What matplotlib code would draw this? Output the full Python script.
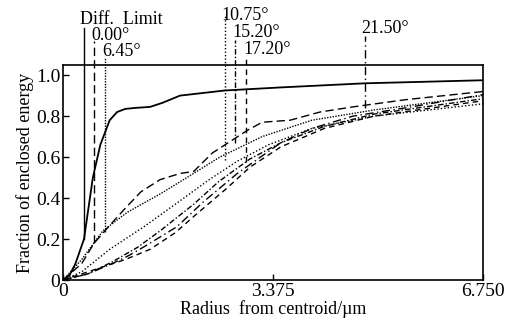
import matplotlib
matplotlib.use("Agg")
from matplotlib import pyplot as plt

plt.rcParams['font.family'] = ['Liberation Serif', 'DejaVu Serif']

# encircled energy curves
r_diff = [0, 0.1, 0.2, 0.3375, 0.48, 0.6, 0.75, 0.87, 1.0, 1.16, 1.4, 1.6, 1.88, 2.6, 3.5, 4.85, 6.75]
e_diff = [0, 0.02, 0.08, 0.2, 0.5, 0.66, 0.78, 0.82, 0.835, 0.84, 0.845, 0.865, 0.9, 0.925, 0.94, 0.96, 0.975]

r_000 = [0, 0.3, 0.5, 0.79, 1.0, 1.25, 1.56, 1.88, 2.1, 2.4, 2.96, 3.2, 3.65, 4.13, 4.66, 5.5, 6.75]
e_000 = [0, 0.08, 0.18, 0.28, 0.35, 0.43, 0.49, 0.52, 0.53, 0.62, 0.73, 0.77, 0.78, 0.82, 0.845, 0.88, 0.92]

r_645 = [0, 0.3, 0.64, 1.03, 1.56, 1.99, 2.52, 3.2, 4.0, 5.0, 6.75]
e_645 = [0, 0.1, 0.24, 0.33, 0.42, 0.5, 0.6, 0.7, 0.78, 0.83, 0.9]

r_1075 = [0, 0.3, 0.75, 1.3, 1.85, 2.35, 2.8, 3.3, 4.0, 5.0, 6.75]
e_1075 = [0, 0.04, 0.15, 0.26, 0.38, 0.49, 0.58, 0.66, 0.74, 0.8, 0.86]

r_1520 = [0, 0.4, 0.8, 1.2, 1.56, 2.1, 2.5, 3.0, 3.5, 4.2, 5.0, 6.75]
e_1520 = [0, 0.03, 0.09, 0.16, 0.24, 0.37, 0.48, 0.59, 0.67, 0.75, 0.81, 0.885]

r_1720 = [0, 0.5, 1.0, 1.4, 1.8, 2.1, 2.64, 3.0, 3.5, 4.2, 5.0, 6.75]
e_1720 = [0, 0.05, 0.1, 0.15, 0.23, 0.31, 0.45, 0.55, 0.65, 0.74, 0.8, 0.875]

r_2150 = [0, 0.4, 0.79, 1.06, 1.29, 1.83, 2.25, 2.8, 3.5, 4.0, 4.66, 5.5, 6.75]
e_2150 = [0, 0.03, 0.08, 0.12, 0.16, 0.26, 0.38, 0.52, 0.67, 0.74, 0.8, 0.84, 0.905]

# marker lines: label, radius, bottom, top of line, text baseline
labels = ['Diff.  Limit', '0.00°', '6.45°', '10.75°', '15.20°', '17.20°', '21.50°']
mark_r = [0.3375, 0.50, 0.675, 2.6, 2.76, 2.94, 4.85]
mark_lo = [0.2, 0.18, 0.235, 0.585, 0.67, 0.575, 0.84]
mark_hi = [1.232, 1.166, 1.088, 1.30, 1.17, 1.098, 1.19]
text_y = [1.25, 1.171, 1.093, 1.268, 1.185, 1.102, 1.205]

curves = [(r_diff, e_diff), (r_000, e_000), (r_645, e_645), (r_1075, e_1075),
          (r_1520, e_1520), (r_1720, e_1720), (r_2150, e_2150)]
styles = ['-', (0, (6, 3)), (0, (1, 1)), (0, (1, 1.5)),
          (0, (4, 1.5, 1, 1.5)), (0, (4, 3)), (0, (6, 2.5, 1, 2.5))]
lws = [1.3, 1.0, 1.0, 1.0, 1.0, 1.0, 1.0]
dx = [-0.07, -0.04, -0.05, -0.05, -0.04, -0.04, -0.06]

fig = plt.figure(figsize=(5.08, 3.26), dpi=100)
ax = fig.add_axes([0.124, 0.141, 0.827, 0.66])

for (r, e), ls, lw in zip(curves, styles, lws):
    ax.plot(r, e, color='black', linestyle=ls, linewidth=lw)

for i in range(len(labels)):
    ax.plot([mark_r[i], mark_r[i]], [mark_lo[i], mark_hi[i]], color='black',
            linestyle=styles[i], linewidth=1.0, clip_on=False)
    ax.text(mark_r[i] + dx[i], text_y[i], labels[i], ha='left', va='baseline',
            fontsize=13)

ax.set_xlim(0, 6.75)
ax.set_ylim(0, 1.05)
ax.set_xticks([0, 3.375, 6.75])
ax.set_xticklabels(['0', '3.375', '6.750'])
ax.set_yticks([0, 0.2, 0.4, 0.6, 0.8, 1.0])
ax.set_yticklabels(['0', '0.2', '0.4', '0.6', '0.8', '1.0'])
ax.tick_params(direction='in', length=4, width=1.0, labelsize=14, pad=2)
for s in ax.spines.values():
    s.set_linewidth(1.2)
ax.set_xlabel('Radius  from centroid/µm', fontsize=13, labelpad=0)
ax.set_ylabel('Fraction of enclosed energy', fontsize=13, labelpad=1)

fig.savefig('out.png', dpi=100)
